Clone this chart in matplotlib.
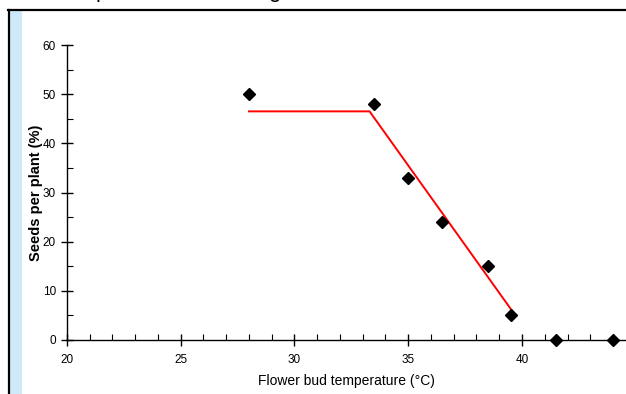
import numpy as np
from matplotlib import pyplot as plt
from matplotlib.patches import Rectangle
from matplotlib.lines import Line2D

# Data
temp = [28.0, 33.5, 35.0, 36.5, 38.5, 39.5, 41.5, 44.0]
seeds = [50.0, 48.0, 33.0, 24.0, 15.0, 5.0, 0.0, 0.0]

# broken-stick fit (red line)
fit_x = [28.0, 33.3, 39.6]
fit_y = [46.5, 46.5, 5.7]

font = ['Liberation Sans', 'DejaVu Sans']


def main():
    W, H = 626, 394
    fig = plt.figure(figsize=(W / 100, H / 100), dpi=100)

    # frame around the chart (cropped page)
    fig.add_artist(Rectangle((10 / W, 0), 12 / W, (H - 11) / H,
                             transform=fig.transFigure, facecolor='#cfe9fb',
                             edgecolor='none'))
    fig.add_artist(Line2D([8.5 / W, 8.5 / W], [0, (H - 10) / H],
                          transform=fig.transFigure, color='black', lw=1.6))
    fig.add_artist(Line2D([8 / W, 1], [(H - 10) / H, (H - 10) / H],
                          transform=fig.transFigure, color='black', lw=1.6))

    # cut-off title fragments at the top edge
    fig.text(96 / W, (H + 2.5) / H, 'p', fontsize=16, va='baseline', ha='left',
             family=font)
    fig.text(268 / W, (H + 2.5) / H, 'g', fontsize=16, va='baseline', ha='left',
             family=font)

    ax = fig.add_axes([67 / W, (H - 340) / H, (W - 67) / W, (340 - 45) / H])
    ax.set_xlim(20, 20 + (W - 67) / 22.75)
    ax.set_ylim(0, 60)
    ax.set_facecolor('none')

    ax.plot(fit_x, fit_y, color='#ff0000', lw=1.4, zorder=2)
    ax.plot(temp, seeds, linestyle='none', marker='D', markersize=6,
            color='black', zorder=3, clip_on=False)

    for s in ['top', 'right']:
        ax.spines[s].set_visible(False)
    for s in ['left', 'bottom']:
        ax.spines[s].set_linewidth(1.0)

    ax.set_xticks(np.arange(20, 45, 5))
    ax.set_xticks(np.arange(20, 45, 1), minor=True)
    ax.set_yticks(np.arange(0, 61, 10))
    ax.set_yticks(np.arange(0, 61, 5), minor=True)

    ax.tick_params(axis='x', which='major', direction='inout', length=8,
                   width=1.0, pad=6)
    ax.tick_params(axis='x', which='minor', direction='in', length=4,
                   width=0.8)
    ax.tick_params(axis='y', which='major', direction='inout', length=8,
                   width=1.0, pad=4)
    ax.tick_params(axis='y', which='minor', direction='in', length=4,
                   width=0.8)
    for lab in ax.get_xticklabels() + ax.get_yticklabels():
        lab.set_family(font)
        lab.set_fontsize(8.5)

    ax.set_xlabel('Flower bud temperature (°C)', family=font, fontsize=10)
    ax.xaxis.set_label_coords(0.5, -(374 - 340) / (340 - 45))
    ax.set_ylabel('Seeds per plant (%)', family=font, fontsize=10.5,
                  fontweight='bold')
    ax.yaxis.set_label_coords(-(67 - 43) / (W - 67), 0.5)

    fig.savefig('out.png', dpi=100)


if __name__ == '__main__':
    main()
